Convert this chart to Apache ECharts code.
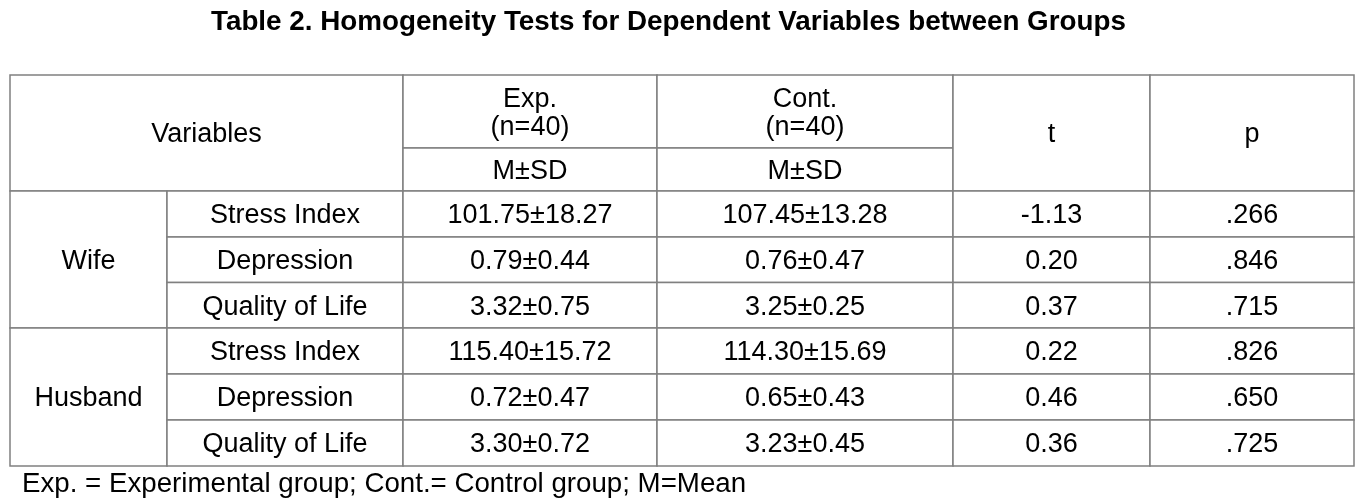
<!DOCTYPE html>
<html>
<head>
<meta charset="utf-8">
<script src="https://cdn.jsdelivr.net/npm/echarts@6/dist/echarts.min.js"></script>
<style>
  html, body { margin: 0; padding: 0; background: #fff; }
  #main { width: 1366px; height: 503px; }
</style>
</head>
<body>
<div id="main"></div>
<script>
// table content
const groups = ['Wife', 'Husband']
const variables = ['Stress Index', 'Depression', 'Quality of Life']
const expMSD = ['101.75±18.27', '0.79±0.44', '3.32±0.75', '115.40±15.72', '0.72±0.47', '3.30±0.72']
const contMSD = ['107.45±13.28', '0.76±0.47', '3.25±0.25', '114.30±15.69', '0.65±0.43', '3.23±0.45']
const tValues = ['-1.13', '0.20', '0.37', '0.22', '0.46', '0.36']
const pValues = ['.266', '.846', '.715', '.826', '.650', '.725']

// layout (column / row edges in table units)
const colEdges = [0, 157, 393, 647, 943, 1140, 1344]
const rowEdges = [0, 73, 116, 162, 207.5, 253, 299, 345, 391]

const FAMILY = '"Liberation Sans", Arial, sans-serif'
const FONT = '27px ' + FAMILY

// build the list of cells: c0/c1 column edge idx, r0/r1 row edge idx
const cells = []
cells.push({ c0: 0, c1: 2, r0: 0, r1: 2, text: 'Variables' })
cells.push({ c0: 2, c1: 3, r0: 0, r1: 1, text: 'Exp.\n(n=40)' })
cells.push({ c0: 3, c1: 4, r0: 0, r1: 1, text: 'Cont.\n(n=40)' })
cells.push({ c0: 2, c1: 3, r0: 1, r1: 2, text: 'M±SD' })
cells.push({ c0: 3, c1: 4, r0: 1, r1: 2, text: 'M±SD' })
cells.push({ c0: 4, c1: 5, r0: 0, r1: 2, text: 't' })
cells.push({ c0: 5, c1: 6, r0: 0, r1: 2, text: 'p' })
groups.forEach((g, gi) => {
  const base = 2 + gi * variables.length
  cells.push({ c0: 0, c1: 1, r0: base, r1: base + variables.length, text: g })
  variables.forEach((v, vi) => {
    const k = gi * variables.length + vi
    const r = base + vi
    cells.push({ c0: 1, c1: 2, r0: r, r1: r + 1, text: v })
    cells.push({ c0: 2, c1: 3, r0: r, r1: r + 1, text: expMSD[k] })
    cells.push({ c0: 3, c1: 4, r0: r, r1: r + 1, text: contMSD[k] })
    cells.push({ c0: 4, c1: 5, r0: r, r1: r + 1, text: tValues[k] })
    cells.push({ c0: 5, c1: 6, r0: r, r1: r + 1, text: pValues[k] })
  })
})

const chart = echarts.init(document.getElementById('main'))
const option = {
  backgroundColor: '#fff',
  animation: false,
  title: [
    {
      text: 'Table 2. Homogeneity Tests for Dependent Variables between Groups',
      left: 206,
      top: 3,
      textStyle: { fontFamily: FAMILY, fontSize: 27.8, fontWeight: 'bold', color: '#000' }
    },
    {
      text: 'Exp. = Experimental group; Cont.= Control group; M=Mean',
      left: 17,
      top: 465,
      textStyle: { fontFamily: FAMILY, fontSize: 27.7, fontWeight: 'normal', color: '#000' }
    }
  ],
  grid: { left: 10, right: 12, top: 75, bottom: 37 },
  xAxis: { type: 'value', min: 0, max: colEdges[colEdges.length - 1], show: false },
  yAxis: { type: 'value', min: 0, max: rowEdges[rowEdges.length - 1], inverse: true, show: false },
  series: [
    {
      type: 'custom',
      clip: false,
      data: cells.map(c => [c.c0, c.c1, c.r0, c.r1]),
      renderItem: function (params, api) {
        const c = cells[params.dataIndex]
        const p0 = api.coord([colEdges[c.c0], rowEdges[c.r0]])
        const p1 = api.coord([colEdges[c.c1], rowEdges[c.r1]])
        return {
          type: 'group',
          children: [
            {
              type: 'rect',
              shape: { x: p0[0], y: p0[1], width: p1[0] - p0[0], height: p1[1] - p0[1] },
              style: { fill: '#fff', stroke: '#808080', lineWidth: 1.5 }
            },
            {
              type: 'text',
              style: {
                text: c.text,
                x: (p0[0] + p1[0]) / 2,
                y: (p0[1] + p1[1]) / 2 + 2,
                align: 'center',
                verticalAlign: 'middle',
                font: FONT,
                lineHeight: 28,
                fill: '#000'
              }
            }
          ]
        }
      }
    }
  ]
}
chart.setOption(option)
</script>
</body>
</html>
